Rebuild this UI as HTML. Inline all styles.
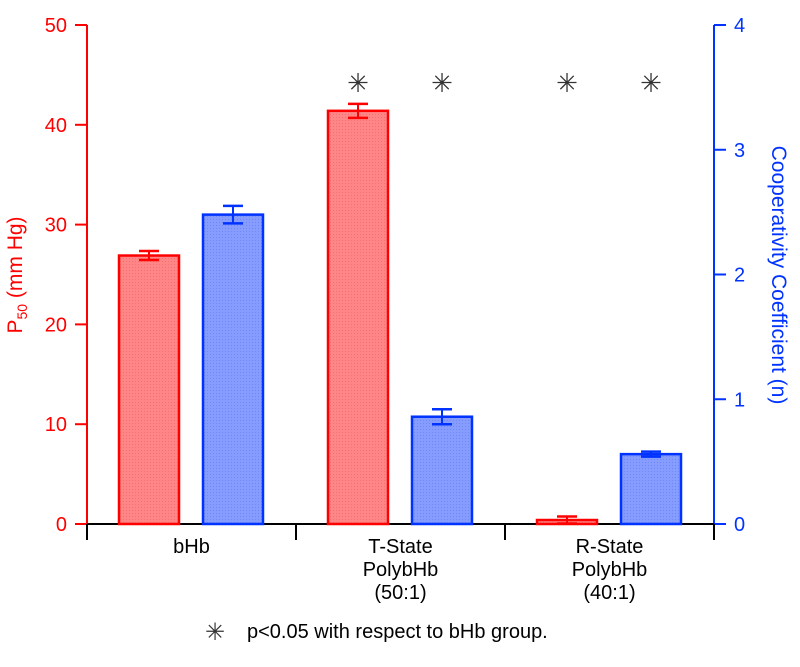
<!DOCTYPE html>
<html><head><meta charset="utf-8"><style>
body{margin:0;background:#fff;}
svg text{font-family:"Liberation Sans",Arial,sans-serif;}
</style></head><body>
<svg id="chart" width="800" height="662" viewBox="0 0 800 662" xmlns="http://www.w3.org/2000/svg">
<defs>
<pattern id="pr" width="3" height="3" patternUnits="userSpaceOnUse"><rect width="3" height="3" fill="#ff8686"/><rect width="1" height="1" fill="#f47070"/></pattern>
<pattern id="pb" width="3" height="3" patternUnits="userSpaceOnUse"><rect width="3" height="3" fill="#869cff"/><rect width="1" height="1" fill="#7088f4"/></pattern>
</defs>
<g id="g"></g>
</svg>
<script>
const categories=[["bHb"],["T-State","PolybHb","(50:1)"],["R-State","PolybHb","(40:1)"]];
const p50=[26.9,41.4,0.4];
const p50Err=[0.45,0.7,0.35];
const nCoef=[2.48,0.86,0.56];
const nErr=[0.07,0.06,0.02];
const sig=[false,true,true];
const leftTicks=[0,10,20,30,40,50];
const rightTicks=[0,1,2,3,4];

const NS="http://www.w3.org/2000/svg";
const g=document.getElementById('g');
const X0=87,X1=714,Y0=524,Y1=25;
const yL=v=>Y0-(v/50)*(Y0-Y1);
const yR=v=>Y0-(v/4)*(Y0-Y1);
const groupW=(X1-X0)/categories.length;
const gx=i=>X0+groupW*i;
function el(t,a,txt){const e=document.createElementNS(NS,t);for(const k in a)e.setAttribute(k,a[k]);if(txt!==undefined)e.textContent=txt;g.appendChild(e);return e;}
const RED="#ff0000",BLUE="#0033ff";
let e;
// axes
e=el('line',{x1:X0,y1:Y1,x2:X0,y2:Y0,stroke:RED,'stroke-width':2});

e=el('line',{x1:X1,y1:Y1,x2:X1,y2:Y0,stroke:BLUE,'stroke-width':2});

e=el('line',{x1:X0,y1:Y0,x2:X1,y2:Y0,stroke:"#000",'stroke-width':2});

for(const t of leftTicks){const y=yL(t);
 el('line',{x1:X0-12,y1:y,x2:X0,y2:y,stroke:RED,'stroke-width':2});
 e=el('text',{x:X0-20,y:y+7,'text-anchor':'end','font-size':20,fill:RED},t);
 }
for(const t of rightTicks){const y=yR(t);
 el('line',{x1:X1,y1:y,x2:X1+12,y2:y,stroke:BLUE,'stroke-width':2});
 e=el('text',{x:X1+20,y:y+7,'text-anchor':'start','font-size':20,fill:BLUE},t);
 }
for(let i=0;i<=categories.length;i++){el('line',{x1:gx(i),y1:Y0,x2:gx(i),y2:Y0+16,stroke:"#000",'stroke-width':2});}
categories.forEach((c,i)=>{const cx=gx(i)+groupW/2;
 c.forEach((s,j)=>{e=el('text',{x:cx,y:553+j*23,'text-anchor':'middle','font-size':20,fill:"#000"},s);
 });
 // red bar
 const rx=gx(i)+32,bw=60;
 const ry=yL(p50[i]);
 e=el('rect',{x:rx,y:ry,width:bw,height:Y0-ry,fill:'url(#pr)',stroke:RED,'stroke-width':2.5});
 
 const rt=yL(p50[i]+p50Err[i]),rb=yL(p50[i]-p50Err[i]),rc=rx+bw/2;
 el('line',{x1:rc,y1:rt,x2:rc,y2:rb,stroke:RED,'stroke-width':2});
 el('line',{x1:rc-10,y1:rt,x2:rc+10,y2:rt,stroke:RED,'stroke-width':2.5});
 el('line',{x1:rc-10,y1:rb,x2:rc+10,y2:rb,stroke:RED,'stroke-width':2.5});
 // blue bar
 const bx=gx(i)+116;
 const by=yR(nCoef[i]);
 e=el('rect',{x:bx,y:by,width:bw,height:Y0-by,fill:'url(#pb)',stroke:BLUE,'stroke-width':2.5});
 
 const bt=yR(nCoef[i]+nErr[i]),bb=yR(nCoef[i]-nErr[i]),bc=bx+bw/2;
 el('line',{x1:bc,y1:bt,x2:bc,y2:bb,stroke:BLUE,'stroke-width':2});
 el('line',{x1:bc-10,y1:bt,x2:bc+10,y2:bt,stroke:BLUE,'stroke-width':2.5});
 el('line',{x1:bc-10,y1:bb,x2:bc+10,y2:bb,stroke:BLUE,'stroke-width':2.5});
 if(sig[i]){[rc,bc].forEach(x=>{e=el('text',{x:x,y:92,'text-anchor':'middle','font-size':26,fill:"#333"},"\u2733");
  });}
});
e=el('text',{x:22,y:275,'text-anchor':'middle','font-size':21,fill:RED,transform:'rotate(-90 22 275)'});
e.innerHTML='P<tspan font-size="14" dy="5">50</tspan><tspan dy="-5"> (mm Hg)</tspan>';

e=el('text',{x:772,y:275,'text-anchor':'middle','font-size':21,fill:BLUE,transform:'rotate(90 772 275)'},'Cooperativity Coefficient (n)');

e=el('text',{x:215,y:640,'text-anchor':'middle','font-size':24,fill:"#333"},"\u2733");

e=el('text',{x:247,y:638,'font-size':20,fill:"#000"},'p<0.05 with respect to bHb group.');

</script>
</body></html>
